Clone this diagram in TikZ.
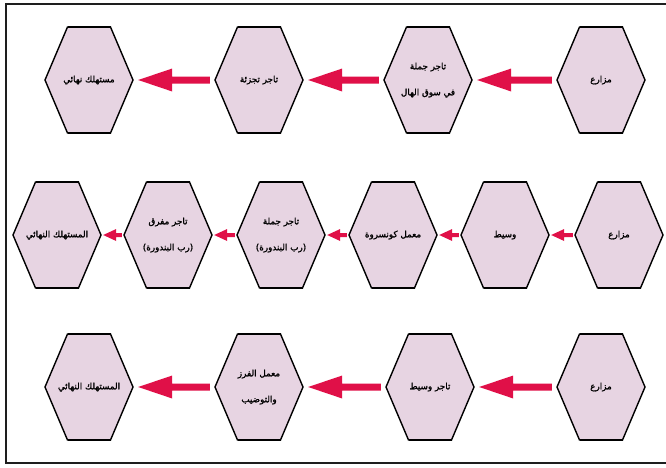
\documentclass[tikz,border=0pt]{standalone}
\usepackage{fontspec}
\TeXXeTstate=1
\newfontfamily\arabicfont[Script=Arabic, BoldFont={DejaVu Sans}, BoldFeatures={FakeBold=1.6}]{DejaVu Sans}
\usetikzlibrary{calc}
\definecolor{hexfill}{RGB}{231,212,226}
\definecolor{arrred}{RGB}{224,16,72}
\definecolor{framec}{RGB}{30,30,30}
\tikzset{
  hexlabel/.style={shape=rectangle, minimum width=88pt, minimum height=106pt, inner sep=0pt, align=center,
    font=\arabicfont\bfseries\fontsize{8.8}{26}\selectfont},
  hexbody/.style={fill=hexfill, draw=black, line width=1.4pt, line join=miter},
  hexcap/.style={draw=black, line width=2.6pt},
  arrowfill/.style={fill=arrred},
  framestyle/.style={draw=framec, line width=2.2pt},
}
\newcommand\hexnode[4]{%
  \begin{scope}[shift={(#2,#3)}]
  \filldraw[hexbody] (-44,0) -- (-21.5,-53) -- (21.5,-53) -- (44,0) -- (21.5,53) -- (-21.5,53) -- cycle;
  \draw[hexcap] (-21.5,-53) -- (21.5,-53) (-21.5,53) -- (21.5,53);
  \end{scope}
  \node[hexlabel] (#1) at (#2,#3) {#4};
}
\newcommand\bigarr[2]{%
  \fill[arrowfill] ($(#2.east)+(5,0)$) -- ($(#2.east)+(39,-11.5)$) -- ($(#2.east)+(39,-3.5)$)
    -- ($(#1.west)+(-5,-3.5)$) -- ($(#1.west)+(-5,3.5)$) -- ($(#2.east)+(39,3.5)$)
    -- ($(#2.east)+(39,11.5)$) -- cycle;
}
\newcommand\smallarr[2]{%
  \fill[arrowfill] ($(#2.east)+(2,0)$) -- ($(#2.east)+(15,-6)$) -- ($(#2.east)+(15,-2)$)
    -- ($(#1.west)+(-2,-2)$) -- ($(#1.west)+(-2,2)$) -- ($(#2.east)+(15,2)$)
    -- ($(#2.east)+(15,6)$) -- cycle;
}
\newcommand\rl[1]{\beginR #1\endR}
\begin{document}
\begin{tikzpicture}[x=1pt,y=-1pt]
\useasboundingbox (0,0) rectangle (666,467);
\fill[white] (0,0) rectangle (666,467);
\draw[framestyle] (666,4) -- (6,4) -- (6,463) -- (666,463);
% row 1
\hexnode{a1}{89}{80}{\rl{مستهلك نهائي}}
\hexnode{a2}{259}{80}{\rl{تاجر تجزئة}}
\hexnode{a3}{428}{80}{\rl{تاجر جملة}\\\rl{في سوق الهال}}
\hexnode{a4}{601}{80}{\rl{مزارع}}
\bigarr{a2}{a1}
\bigarr{a3}{a2}
\bigarr{a4}{a3}
% row 2
\hexnode{b1}{57}{235}{\rl{المستهلك النهائي}}
\hexnode{b2}{168}{235}{\rl{تاجر مفرق}\\\rl{(رب البندورة)}}
\hexnode{b3}{281}{235}{\rl{تاجر جملة}\\\rl{(رب البندورة)}}
\hexnode{b4}{393}{235}{\rl{معمل كونسروة}}
\hexnode{b5}{505}{235}{\rl{وسيط}}
\hexnode{b6}{619}{235}{\rl{مزارع}}
\smallarr{b2}{b1}
\smallarr{b3}{b2}
\smallarr{b4}{b3}
\smallarr{b5}{b4}
\smallarr{b6}{b5}
% row 3
\hexnode{c1}{89}{387}{\rl{المستهلك النهائي}}
\hexnode{c2}{259}{387}{\rl{معمل الفرز}\\\rl{والتوضيب}}
\hexnode{c3}{430}{387}{\rl{تاجر وسيط}}
\hexnode{c4}{601}{387}{\rl{مزارع}}
\bigarr{c2}{c1}
\bigarr{c3}{c2}
\bigarr{c4}{c3}
\end{tikzpicture}
\end{document}
